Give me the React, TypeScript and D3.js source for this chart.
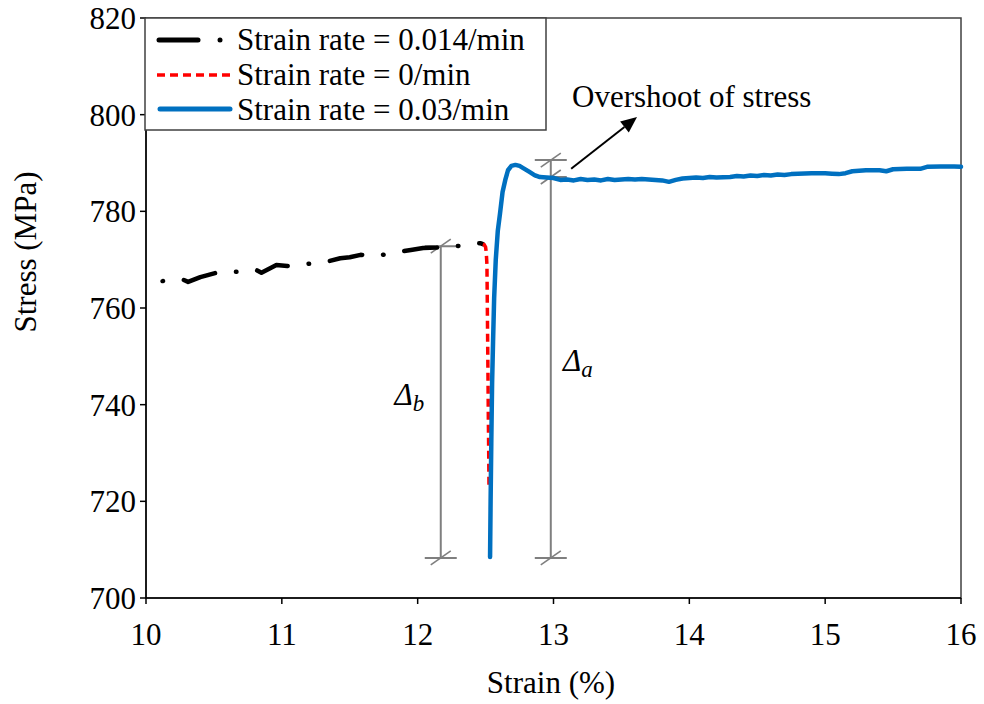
import React from "react";
import * as d3 from "d3";

// Axis ticks
const xTicks = [10, 11, 12, 13, 14, 15, 16];
const yTicks = [700, 720, 740, 760, 780, 800, 820];

// Strain rate = 0.014/min (loading before the hold)
const strainSlow = [10.0, 10.06, 10.13, 10.22, 10.27, 10.31, 10.4, 10.52, 10.6, 10.67, 10.76, 10.81, 10.85, 10.96, 11.04, 11.1, 11.18, 11.32, 11.43, 11.5, 11.58, 11.71, 11.85, 11.95, 12.04, 12.14, 12.24, 12.32, 12.39, 12.46, 12.48];
const stressSlow = [764.8, 765.3, 765.6, 765.8, 765.9, 765.4, 766.4, 767.3, 767.4, 767.5, 767.8, 767.9, 767.3, 768.9, 768.7, 768.9, 769.1, 769.5, 770.3, 770.5, 771.0, 770.8, 771.6, 772.0, 772.4, 772.5, 772.7, 772.9, 773.2, 773.4, 773.2];

// Strain rate = 0/min (stress relaxation)
const strainRelax = [12.48, 12.49, 12.5, 12.505, 12.51, 12.513, 12.517, 12.52, 12.523, 12.525];
const stressRelax = [773.2, 773.1, 772.6, 771.5, 769, 760, 748, 738, 730, 723];

// Strain rate = 0.03/min (reloading)
const strainFast = [12.533, 12.537, 12.542, 12.548, 12.555, 12.563, 12.575, 12.59, 12.606, 12.625, 12.645, 12.665, 12.69, 12.72, 12.75, 12.78, 12.82, 12.86, 12.9, 12.95, 13.0, 13.05, 13.1, 13.15, 13.2, 13.25, 13.3, 13.35, 13.4, 13.45, 13.5, 13.55, 13.6, 13.65, 13.7, 13.75, 13.8, 13.85, 13.9, 13.95, 14.0, 14.05, 14.1, 14.15, 14.2, 14.3, 14.35, 14.4, 14.45, 14.5, 14.55, 14.6, 14.65, 14.7, 14.75, 14.8, 14.9, 15.0, 15.05, 15.1, 15.15, 15.2, 15.3, 15.4, 15.45, 15.5, 15.6, 15.7, 15.75, 15.85, 15.95, 16.0];
const stressFast = [708.5, 720, 732, 744.5, 753, 762, 770, 776, 779.5, 784, 786.5, 788.5, 789.4, 789.6, 789.4, 788.9, 788.2, 787.5, 787.1, 787.0, 786.9, 786.5, 786.6, 786.4, 786.7, 786.5, 786.6, 786.4, 786.7, 786.5, 786.6, 786.7, 786.6, 786.7, 786.6, 786.5, 786.4, 786.1, 786.5, 786.8, 786.9, 787.0, 786.9, 787.1, 787.0, 787.1, 787.3, 787.2, 787.4, 787.3, 787.5, 787.4, 787.6, 787.5, 787.7, 787.8, 787.9, 787.9, 787.8, 787.7, 787.9, 788.3, 788.5, 788.5, 788.3, 788.7, 788.8, 788.8, 789.2, 789.3, 789.3, 789.2];

// Dimension markers Δb and Δa
const dimStrain = [12.17, 12.98];
const dimTop = [772.8, 790.6];
const dimBottom = [708.3, 708.3];
const dimExtra = [787.1]; // second cap on Δa (steady level after the overshoot)
const dimLabels = ["b", "a"];
const dimLabelStress = [740, 747];
const dimLabelStrain = [11.83, 13.07];

// Arrow pointing to the overshoot note
const arrowStrain = [13.13, 13.615];
const arrowStress = [788.8, 799.5];
const noteText = "Overshoot of stress";

const legendLabels = ["Strain rate = 0.014/min", "Strain rate = 0/min", "Strain rate = 0.03/min"];

const W = 984;
const H = 704;
const left = 146;
const right = 961;
const top = 18;
const bottom = 598;
const FONT = "'Liberation Serif', 'Times New Roman', serif";
const FS = 31;
const BLUE = "#0070C0";
const RED = "#FF0000";
const GREY = "#7f7f7f";

export default function App() {
  const x = d3.scaleLinear().domain([10, 16]).range([left, right]);
  const y = d3.scaleLinear().domain([700, 820]).range([bottom, top]);

  const line = d3
    .line<[number, number]>()
    .x((d) => x(d[0]))
    .y((d) => y(d[1]));

  const slow = line(strainSlow.map((s, i) => [s, stressSlow[i]]) as [number, number][]) || "";
  const relax = line(strainRelax.map((s, i) => [s, stressRelax[i]]) as [number, number][]) || "";
  const fast = line(strainFast.map((s, i) => [s, stressFast[i]]) as [number, number][]) || "";

  const cap = 16;
  const slash = (cx: number, cy: number, k: string) => (
    <line key={k} x1={cx - 10} y1={cy + 7} x2={cx + 10} y2={cy - 7} stroke={GREY} strokeWidth={1.6} />
  );

  const ax1 = x(arrowStrain[0]);
  const ay1 = y(arrowStress[0]);
  const ax2 = x(arrowStrain[1]);
  const ay2 = y(arrowStress[1]);
  const ang = Math.atan2(ay2 - ay1, ax2 - ax1);
  const hl = 16;
  const hw = 7;
  const bx = ax2 - hl * Math.cos(ang);
  const by = ay2 - hl * Math.sin(ang);
  const head = `M${ax2},${ay2} L${bx + hw * Math.sin(ang)},${by - hw * Math.cos(ang)} L${bx - hw * Math.sin(ang)},${by + hw * Math.cos(ang)} Z`;

  return (
    <svg width={W} height={H} style={{ position: "absolute", left: 0, top: 0, background: "#fff", fontFamily: FONT }}>
      <rect x={0} y={0} width={W} height={H} fill="#fff" />
      {/* plot frame */}
      <rect x={left} y={top} width={right - left} height={bottom - top} fill="none" stroke="#404040" strokeWidth={1.5} />
      <line x1={left} y1={top} x2={left} y2={bottom} stroke="#000" strokeWidth={1.5} />
      <line x1={left} y1={bottom} x2={right} y2={bottom} stroke="#000" strokeWidth={1.5} />

      {/* y axis */}
      {yTicks.map((t) => (
        <g key={"y" + t}>
          <line x1={left - 6} x2={left} y1={y(t)} y2={y(t)} stroke="#000" strokeWidth={1.5} />
          <text x={left - 10} y={y(t)} dy="0.35em" textAnchor="end" fontSize={FS} fill="#000">
            {t}
          </text>
        </g>
      ))}
      {/* x axis */}
      {xTicks.map((t) => (
        <g key={"x" + t}>
          <line x1={x(t)} x2={x(t)} y1={bottom} y2={bottom + 6} stroke="#000" strokeWidth={1.5} />
          <text x={x(t)} y={645} textAnchor="middle" fontSize={FS} fill="#000">
            {t}
          </text>
        </g>
      ))}
      <text x={551} y={693} textAnchor="middle" fontSize={FS} fill="#000">
        Strain (%)
      </text>
      <text transform="translate(36,252) rotate(-90)" textAnchor="middle" fontSize={FS} fill="#000">
        Stress (MPa)
      </text>

      {/* dimension markers */}
      {dimStrain.map((s, i) => {
        const cx = x(s);
        const y1 = y(dimTop[i]);
        const y2 = y(dimBottom[i]);
        return (
          <g key={"dim" + i}>
            <line x1={cx} x2={cx} y1={y1} y2={y2} stroke={GREY} strokeWidth={2} />
            <line x1={cx - cap} x2={cx + cap} y1={y1} y2={y1} stroke={GREY} strokeWidth={2} />
            <line x1={cx - cap} x2={cx + cap} y1={y2} y2={y2} stroke={GREY} strokeWidth={2} />
            {slash(cx, y1, "a")}
            {slash(cx, y2, "b")}
          </g>
        );
      })}
      {dimExtra.map((v, i) => (
        <g key={"ex" + i}>
          <line x1={x(dimStrain[1]) - cap} x2={x(dimStrain[1]) + cap} y1={y(v)} y2={y(v)} stroke={GREY} strokeWidth={2} />
          {slash(x(dimStrain[1]), y(v), "c")}
        </g>
      ))}

      {/* curves */}
      <path d={slow} fill="none" stroke="#000" strokeWidth={4.5} strokeLinecap="round" strokeLinejoin="round" strokeDasharray="33 21 0.5 21" strokeDashoffset={37} />
      <path d={relax} fill="none" stroke={RED} strokeWidth={3.5} strokeDasharray="8 5" />
      <path d={fast} fill="none" stroke={BLUE} strokeWidth={4.5} strokeLinecap="round" strokeLinejoin="round" />

      {/* Δ labels */}
      {dimLabels.map((l, i) => (
        <text key={"lab" + i} x={x(dimLabelStrain[i])} y={y(dimLabelStress[i])} fontSize={FS} fontStyle="italic" fill="#000">
          Δ
          <tspan fontSize={23} dy={6}>
            {l}
          </tspan>
        </text>
      ))}

      {/* note arrow */}
      <line x1={ax1} y1={ay1} x2={bx} y2={by} stroke="#000" strokeWidth={2} />
      <path d={head} fill="#000" />
      <text x={572} y={107} fontSize={FS} fill="#000">
        {noteText}
      </text>

      {/* legend */}
      <rect x={145} y={18} width={401} height={112} fill="#fff" stroke="#404040" strokeWidth={1.5} />
      <line x1={159} x2={198} y1={40} y2={40} stroke="#000" strokeWidth={5} strokeLinecap="round" />
      <circle cx={220} cy={40} r={2.5} fill="#000" />
      <line x1={157} x2={232} y1={75} y2={75} stroke={RED} strokeWidth={3.5} strokeDasharray="8 5" />
      <line x1={160} x2={230} y1={109} y2={109} stroke={BLUE} strokeWidth={5} strokeLinecap="round" />
      {legendLabels.map((l, i) => (
        <text key={"lg" + i} x={237} y={50 + i * 35} fontSize={FS} fill="#000">
          {l}
        </text>
      ))}
    </svg>
  );
}
